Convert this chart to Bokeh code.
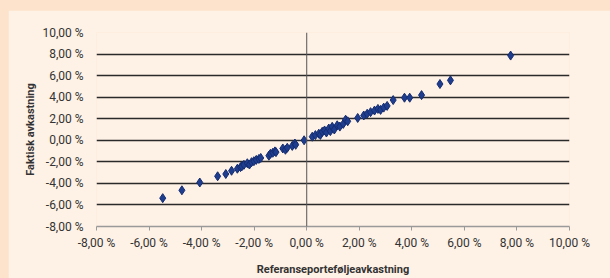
from bokeh.plotting import figure
from bokeh.layouts import column
from bokeh.models import FixedTicker, Span
from bokeh.embed import file_html
from bokeh.resources import INLINE

# Data (percent)
ref_return = [-5.48, -4.75, -4.07, -3.39, -3.08, -2.86, -2.64, -2.52, -2.47, -2.39,
              -2.26, -2.18, -2.10, -2.01, -1.92, -1.82, -1.75, -1.44, -1.38, -1.29,
              -1.21, -1.17, -0.91, -0.81, -0.74, -0.55, -0.45, -0.42, -0.10,
              0.21, 0.33, 0.46, 0.52, 0.59, 0.68, 0.75, 0.84, 0.90, 0.97,
              1.05, 1.16, 1.26, 1.39, 1.48, 1.56, 1.94, 2.17, 2.30, 2.43,
              2.58, 2.71, 2.81, 2.93, 3.06, 3.29, 3.72, 3.92, 4.37, 5.07,
              5.47, 7.76]
actual_return = [-5.37, -4.64, -3.92, -3.34, -3.13, -2.83, -2.64, -2.49, -2.42, -2.28,
                 -2.13, -2.25, -2.03, -1.94, -1.82, -1.73, -1.64, -1.43, -1.25, -1.16,
                 -1.03, -1.10, -0.76, -0.88, -0.70, -0.52, -0.30, -0.42, 0.00,
                 0.33, 0.48, 0.61, 0.50, 0.79, 0.91, 0.72, 1.09, 0.85, 1.25,
                 1.00, 1.39, 1.27, 1.52, 1.91, 1.76, 2.07, 2.30, 2.46, 2.61,
                 2.76, 2.91, 2.82, 3.03, 3.19, 3.73, 3.95, 3.95, 4.19, 5.22,
                 5.56, 7.86]

tick_values = [-8, -6, -4, -2, 0, 2, 4, 6, 8, 10]
tick_labels = ["-8,00 %", "-6,00 %", "-4,00 %", "-2,00 %", "0,00 %",
               "2,00 %", "4,00 %", "6,00 %", "8,00 %", "10,00 %"]
x_title = "Referanseporteføljeavkastning"
y_title = "Faktisk avkastning"

BG = "#fef1e5"
OUTER = "#fde3cb"
FONT = "Roboto"

p = figure(width=602, height=268, output_backend="svg", toolbar_location=None,
           x_range=(-8, 10), y_range=(-8, 10),
           min_border_left=88, min_border_right=41, min_border_top=22, min_border_bottom=48)
p.margin = (10, 0, 0, 8)
p.background_fill_color = BG
p.border_fill_color = BG
p.outline_line_color = None

labels = dict(zip(tick_values, tick_labels))

# x axis
p.xaxis.ticker = FixedTicker(ticks=tick_values)
p.xaxis.major_label_overrides = labels
p.xaxis.axis_line_color = "#9a9a9a"
p.xaxis.axis_line_width = 1.5
p.xaxis.major_tick_line_color = "#9a9a9a"
p.xaxis.major_tick_in = 0
p.xaxis.major_tick_out = 4
p.xaxis.minor_tick_line_color = None
p.xaxis.major_label_text_font = FONT
p.xaxis.major_label_text_font_size = "12px"
p.xaxis.major_label_text_color = "#333333"
p.xaxis.major_label_standoff = 5
p.xaxis.axis_label = x_title
p.xaxis.axis_label_text_font = FONT
p.xaxis.axis_label_text_font_style = "bold"
p.xaxis.axis_label_text_font_size = "11px"
p.xaxis.axis_label_text_color = "#333333"
p.xaxis.axis_label_standoff = 10

# y axis
p.yaxis.ticker = FixedTicker(ticks=tick_values)
p.yaxis.major_label_overrides = labels
p.yaxis.axis_line_color = None
p.yaxis.major_tick_line_color = None
p.yaxis.minor_tick_line_color = None
p.yaxis.major_label_text_font = FONT
p.yaxis.major_label_text_font_size = "12px"
p.yaxis.major_label_text_color = "#333333"
p.yaxis.major_label_standoff = 7
p.yaxis.axis_label = y_title
p.yaxis.axis_label_text_font = FONT
p.yaxis.axis_label_text_font_style = "bold"
p.yaxis.axis_label_text_font_size = "11px"
p.yaxis.axis_label_text_color = "#333333"
p.yaxis.axis_label_standoff = 2

# grids
p.xgrid.grid_line_color = None
p.ygrid.ticker = FixedTicker(ticks=tick_values[1:])
p.ygrid.grid_line_color = "#2a2a2a"
p.ygrid.grid_line_width = 1.4

# vertical axis line at zero
p.add_layout(Span(location=0, dimension="height", line_color="#555555", line_width=1))

p.scatter(ref_return, actual_return, marker="diamond", size=9,
          fill_color="#1f3d8f", line_color="#142c70", line_width=1)

layout = column(p, styles={"background-color": OUTER})

open("out.html", "w").write(file_html(layout, INLINE))
